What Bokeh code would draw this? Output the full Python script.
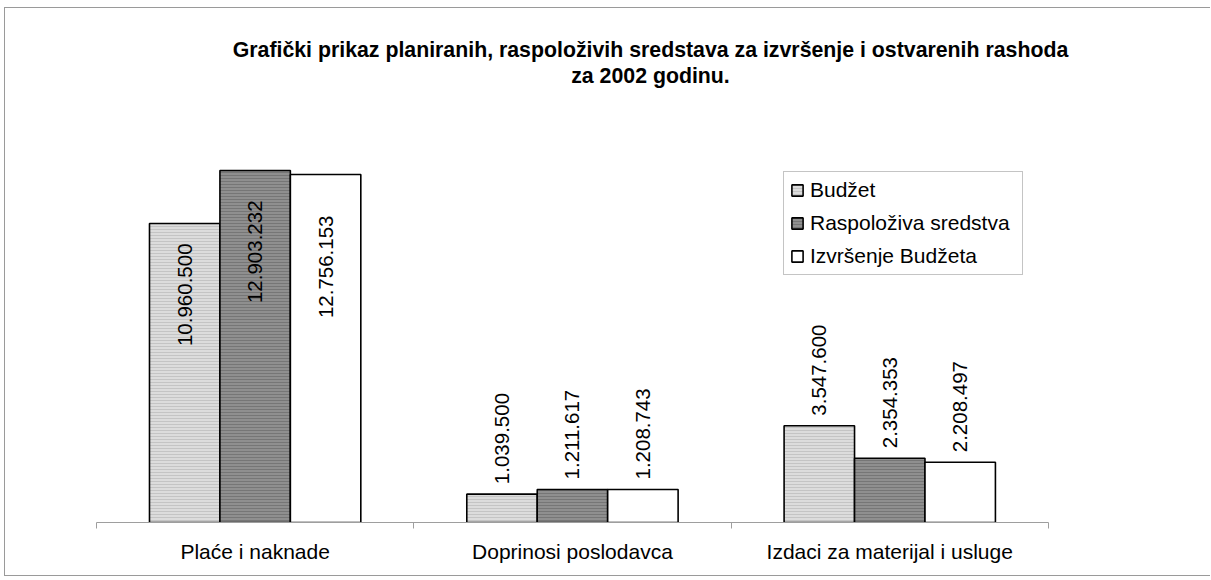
import numpy as np
from bokeh.plotting import figure
from bokeh.models import (ColumnDataSource, Range1d, FixedTicker, Legend, LegendItem, Label)
from bokeh.core.properties import value
from bokeh.transform import dodge
from bokeh.embed import file_html
from bokeh.resources import INLINE

# ---------------- data ----------------
categories = ["Plaće i naknade", "Doprinosi poslodavca", "Izdaci za materijal i usluge"]
series_names = ["Budžet", "Raspoloživa sredstva", "Izvršenje Budžeta"]
budzet = [10960500, 1039500, 3547600]
raspolozivo = [12903232, 1211617, 2354353]
izvrsenje = [12756153, 1208743, 2208497]
title_lines = ["Grafički prikaz planiranih, raspoloživih sredstava za izvršenje i ostvarenih rashoda",
               "za 2002 godinu."]

# ---------------- styles ----------------
FONT = "Liberation Sans"
bar_w = 0.222
offsets = [-0.222, 0.0, 0.222]
fills = ["#dcdcdc", "#8f8f8f", "#ffffff"]
hatches = ["#c4c4c4", "#767676", None]
# labels of the first category sit inside the bars (pixels below the bar top)
inside_shift = [20, 30, 41]
outside_gap = 10
title_pos = [(554, 473), (554, 447)]   # screen px relative to plot frame (bottom-left)

W, H = 1206, 569
# the frame fills the canvas (except the axis area) so the title is drawn inside it
p = figure(width=W, height=H, output_backend="svg", toolbar_location=None,
           x_range=Range1d(0, 3.514), y_range=Range1d(0, 18840000),
           min_border_left=91, min_border_right=0, min_border_top=0, min_border_bottom=55)
p.styles = {"margin": "7px 0px 0px 4px",
            "border-left": "1px solid #9a9a9a",
            "border-top": "1px solid #9a9a9a",
            "border-bottom": "1px solid #9a9a9a"}
p.outline_line_color = None
p.xgrid.visible = False
p.ygrid.visible = False
p.yaxis.visible = False
p.background_fill_color = "white"
p.border_fill_color = "white"

for line, (tx, ty) in zip(title_lines, title_pos):
    p.add_layout(Label(x=tx, y=ty, x_units="screen", y_units="screen", text=line,
                       text_align="center", text_baseline="middle",
                       text_font=FONT, text_font_size="21.3px", text_font_style="bold",
                       text_color="black"))

ax = p.xaxis[0]
ax.bounds = (0, len(categories))
ax.ticker = FixedTicker(ticks=[0.5, 1.5, 2.5], minor_ticks=[0, 1, 2, 3])
ax.major_label_overrides = {0.5: categories[0], 1.5: categories[1], 2.5: categories[2]}
ax.axis_line_color = "#9e9e9e"
ax.axis_line_width = 1
ax.major_tick_line_color = None
ax.major_tick_out = 0
ax.major_tick_in = 0
ax.minor_tick_line_color = "#9e9e9e"
ax.minor_tick_out = 6
ax.minor_tick_in = 0
ax.major_label_standoff = 11
ax.major_label_text_font = FONT
ax.major_label_text_font_size = "21px"
ax.major_label_text_color = "black"

series = [budzet, raspolozivo, izvrsenje]
xc = np.arange(len(categories)) + 0.5
fmt = lambda v: f"{v:,}".replace(",", ".")
items = []
for k, vals in enumerate(series):
    src = ColumnDataSource(dict(x=xc, top=vals))
    kw = dict(fill_color=fills[k], line_color="black", line_width=1.6)
    if hatches[k]:
        kw.update(hatch_pattern="horizontal_line", hatch_color=hatches[k],
                  hatch_scale=3, hatch_weight=1)
    r = p.vbar(x=dodge("x", offsets[k], range=p.x_range), top="top", width=bar_w,
               bottom=0, source=src, **kw)
    items.append(LegendItem(label=series_names[k], renderers=[r]))

    # first category: labels inside the bar, text ends below the bar top
    s_in = ColumnDataSource(dict(x=xc[:1], y=vals[:1], lab=[fmt(v) for v in vals[:1]]))
    p.text(x=dodge("x", offsets[k], range=p.x_range), y="y", text="lab", source=s_in,
           angle=np.pi / 2, text_align="right", text_baseline="middle",
           y_offset=inside_shift[k], text_font=value(FONT), text_font_size="20.5px",
           text_color="black")
    # other categories: labels above the bars
    s_out = ColumnDataSource(dict(x=xc[1:], y=vals[1:], lab=[fmt(v) for v in vals[1:]]))
    p.text(x=dodge("x", offsets[k], range=p.x_range), y="y", text="lab", source=s_out,
           angle=np.pi / 2, text_align="left", text_baseline="middle",
           y_offset=-outside_gap, text_font=value(FONT), text_font_size="20.5px",
           text_color="black")

legend = Legend(items=items, location=(687, 247))
legend.label_text_font = FONT
legend.label_text_font_size = "21px"
legend.label_text_color = "black"
legend.label_height = 24
legend.label_width = 206
legend.glyph_height = 14
legend.glyph_width = 14
legend.label_standoff = 6
legend.padding = 6
legend.spacing = 9
legend.margin = 0
legend.border_line_color = "#8a8a8a"
legend.border_line_width = 1
legend.background_fill_color = "white"
legend.background_fill_alpha = 1
p.add_layout(legend, "center")

open("out.html", "w").write(file_html(p, INLINE))
